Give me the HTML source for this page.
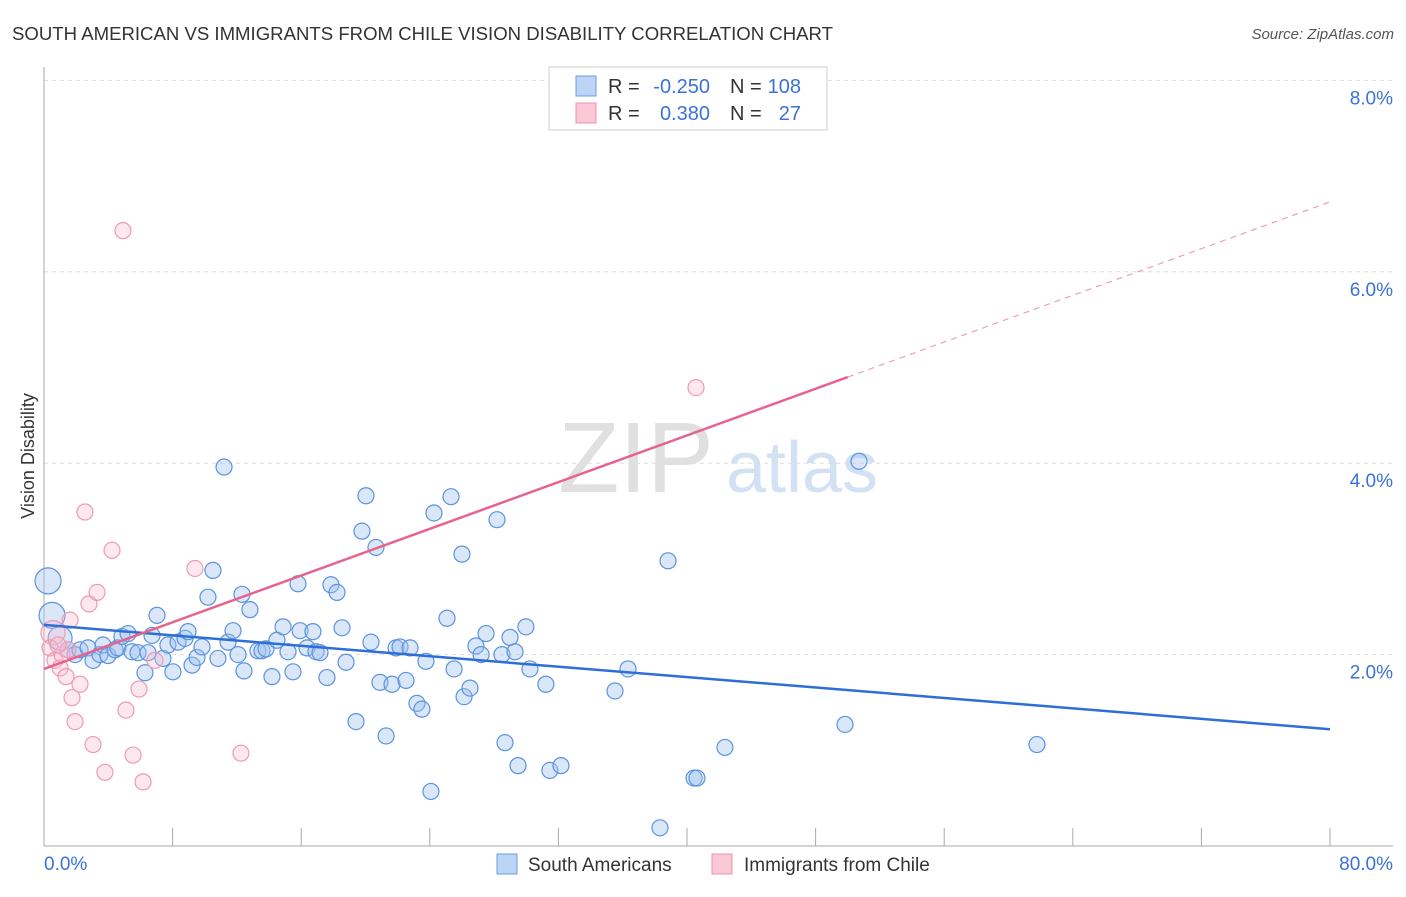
<!DOCTYPE html>
<html><head><meta charset="utf-8"><style>
body{margin:0;background:#fff;font-family:"Liberation Sans",sans-serif}
svg text{font-family:"Liberation Sans",sans-serif}
</style></head><body>
<svg id="chart" width="1406" height="892" xmlns="http://www.w3.org/2000/svg">
<text x="12" y="40" font-size="18" fill="#333" textLength="821" lengthAdjust="spacingAndGlyphs">SOUTH AMERICAN VS IMMIGRANTS FROM CHILE VISION DISABILITY CORRELATION CHART</text>
<text x="1394" y="39" font-size="15" fill="#555" text-anchor="end" font-style="italic">Source: ZipAtlas.com</text>
<text x="34" y="456" font-size="18" fill="#333" transform="rotate(-90 34 456)" text-anchor="middle">Vision Disability</text>
<g><text x="636" y="492" font-size="100" fill="#e0e0e0" font-family="Liberation Serif" text-anchor="middle">ZIP</text><text x="802" y="492" font-size="72" fill="#d3e1f5" text-anchor="middle">atlas</text></g>
<g id="grid"></g><g id="axes"></g><g id="marks"></g><g id="trend"></g>
<g>
<rect x="549" y="67" width="278" height="63" fill="#fff" stroke="#ccc"/>
<rect x="576" y="76" width="20" height="20" fill="#bcd4f5" stroke="#6a9ee0"/>
<rect x="576" y="103" width="20" height="20" fill="#f9c7d6" stroke="#ec93ad"/>
<text x="608" y="93" font-size="20" fill="#333">R =</text>
<text x="710" y="93" font-size="20" fill="#3a72d8" text-anchor="end">-0.250</text>
<text x="730" y="93" font-size="20" fill="#333">N =</text>
<text x="801" y="93" font-size="20" fill="#3a72d8" text-anchor="end">108</text>
<text x="608" y="120" font-size="20" fill="#333">R =</text>
<text x="710" y="120" font-size="20" fill="#3a72d8" text-anchor="end">0.380</text>
<text x="730" y="120" font-size="20" fill="#333">N =</text>
<text x="801" y="120" font-size="20" fill="#3a72d8" text-anchor="end">27</text>
</g>
<g>
<rect x="497" y="854" width="20" height="20" fill="#bcd4f5" stroke="#6a9ee0"/>
<text x="528" y="871" font-size="19" fill="#333">South Americans</text>
<rect x="712" y="854" width="20" height="20" fill="#f9c7d6" stroke="#ec93ad"/>
<text x="744" y="871" font-size="19" fill="#333">Immigrants from Chile</text>
</g>
</svg>
<script>
const blueX=[0.25,0.5,1.0,1.49,1.93,2.24,2.74,3.05,3.48,3.67,3.98,4.42,4.6,4.85,5.23,5.47,5.85,6.28,6.47,6.72,7.03,7.4,7.71,8.02,8.34,8.77,8.96,9.21,9.52,9.83,10.2,10.51,10.82,11.2,11.45,11.76,12.07,12.32,12.44,12.81,13.31,13.56,13.81,14.18,14.49,14.87,15.18,15.49,15.8,15.93,16.36,16.73,16.92,17.17,17.6,17.85,18.23,18.54,18.79,19.41,19.78,20.03,20.34,20.65,20.9,21.28,21.65,21.9,22.15,22.52,22.77,23.2,23.51,23.76,24.07,24.26,25.07,25.32,25.51,26.0,26.13,26.5,26.87,27.19,27.5,28.18,28.49,28.68,28.99,29.3,29.49,29.98,30.23,31.22,31.47,32.16,35.52,36.33,38.32,38.82,40.44,40.62,42.36,49.83,50.7,61.77];
const blueY=[2.77,2.41,2.17,2.05,2.0,2.05,2.07,1.94,2.0,2.1,1.99,2.05,2.07,2.19,2.22,2.03,2.02,1.81,2.02,2.2,2.41,1.96,2.1,1.82,2.13,2.17,2.24,1.89,1.97,2.08,2.6,2.88,1.96,3.96,2.13,2.25,2.0,2.63,1.83,2.47,2.04,2.04,2.06,1.77,2.15,2.29,2.03,1.82,2.74,2.25,2.07,2.24,2.03,2.02,1.76,2.73,2.65,2.28,1.92,1.3,3.29,3.66,2.13,3.12,1.71,1.15,1.69,2.07,2.08,1.73,2.07,1.49,1.43,1.93,0.57,3.48,2.38,3.65,1.85,3.05,1.56,1.65,2.09,2.0,2.22,3.41,2.0,1.08,2.18,2.03,0.84,2.29,1.85,1.69,0.79,0.84,1.62,1.85,0.19,2.98,0.71,0.71,1.03,1.27,4.02,1.06];
const blueR=[13,13,12,8,8,8,8,8,8,8,8,8,8,8,8,8,8,8,8,8,8,8,8,8,8,8,8,8,8,8,8,8,8,8,8,8,8,8,8,8,8,8,8,8,8,8,8,8,8,8,8,8,8,8,8,8,8,8,8,8,8,8,8,8,8,8,8,8,8,8,8,8,8,8,8,8,8,8,8,8,8,8,8,8,8,8,8,8,8,8,8,8,8,8,8,8,8,8,8,8,8,8,8,8,8,8];
const pinkX=[0.56,0.37,0.68,1.0,1.37,1.12,1.62,1.74,1.93,2.24,2.55,2.8,3.05,3.3,3.79,4.23,4.91,5.1,5.54,5.91,6.16,6.9,9.39,12.25,40.56,1.49,0.87];
const pinkY=[2.23,2.07,1.94,1.86,1.77,2.0,2.36,1.55,1.3,1.69,3.49,2.53,1.06,2.65,0.77,3.09,6.43,1.42,0.95,1.64,0.67,1.94,2.9,0.97,4.79,2.05,2.1];
const pinkR=[12,8,8,8,8,8,8,8,8,8,8,8,8,8,8,8,8,8,8,8,8,8,8,8,8,8,8];
const yTicks=[2,4,6,8];
const yTickLabels=["2.0%","4.0%","6.0%","8.0%"];
const xTicks=[0,8,16,24,32,40,48,56,64,72,80];
const blueTrend=[[0,2.31],[80,1.22]];
const pinkTrendSolid=[[0,1.85],[50,4.9]];
const pinkTrendDash=[[50,4.9],[80,6.73]];
const NS="http://www.w3.org/2000/svg";
const sx=v=>44+v/80*1286, sy=v=>846-v*95.7;
function mk(tag,attrs,parent){const e=document.createElementNS(NS,tag);for(const k in attrs)e.setAttribute(k,attrs[k]);document.getElementById(parent).appendChild(e);return e;}
yTicks.forEach((t,i)=>{
 const g=mk('line',{x1:44,x2:1393,y1:sy(t),y2:sy(t),stroke:'#ddd','stroke-dasharray':'4,4'},'grid');
 
 
 const l=mk('text',{x:1393,y:sy(t)+24,'font-size':19,fill:'#3a72d8','text-anchor':'end'},'grid');
 l.textContent=yTickLabels[i];
 
 
});
const ya=mk('line',{x1:44,x2:44,y1:67,y2:846,stroke:'#aaa'},'axes');


const xa=mk('line',{x1:44,x2:1393,y1:846,y2:846,stroke:'#aaa'},'axes');


xTicks.forEach(t=>{
 const tk=mk('line',{x1:sx(t),x2:sx(t),y1:828,y2:846,stroke:'#aaa'},'axes');
 
 
});
const x0=mk('text',{x:44,y:870,'font-size':19,fill:'#3a72d8'},'axes');x0.textContent='0.0%';


const x1=mk('text',{x:1393,y:870,'font-size':19,fill:'#3a72d8','text-anchor':'end'},'axes');x1.textContent='80.0%';


blueX.forEach((v,i)=>{
 const c=mk('circle',{cx:sx(v),cy:sy(blueY[i]),r:blueR[i],fill:'rgba(160,195,240,0.4)',stroke:'#5b93de','stroke-width':1.2},'marks');
 
 
});
pinkX.forEach((v,i)=>{
 const c=mk('circle',{cx:sx(v),cy:sy(pinkY[i]),r:pinkR[i],fill:'rgba(248,190,208,0.35)',stroke:'#ee9ab3','stroke-width':1.2},'marks');
 
 
});
function tl(p,color,w,dash,name){
 const a={x1:sx(p[0][0]),y1:sy(p[0][1]),x2:sx(p[1][0]),y2:sy(p[1][1]),stroke:color,'stroke-width':w};
 if(dash)a['stroke-dasharray']=dash;
 const l=mk('line',a,'trend');
 
 
}
tl(blueTrend,'#2d6fd6',2.5,null,'south-american-trendline');
tl(pinkTrendSolid,'#e8638c',2.5,null,'chile-trendline');
tl(pinkTrendDash,'#e8a0b5',1.2,'6,5','chile-trendline-extension');
</script>
</body></html>
